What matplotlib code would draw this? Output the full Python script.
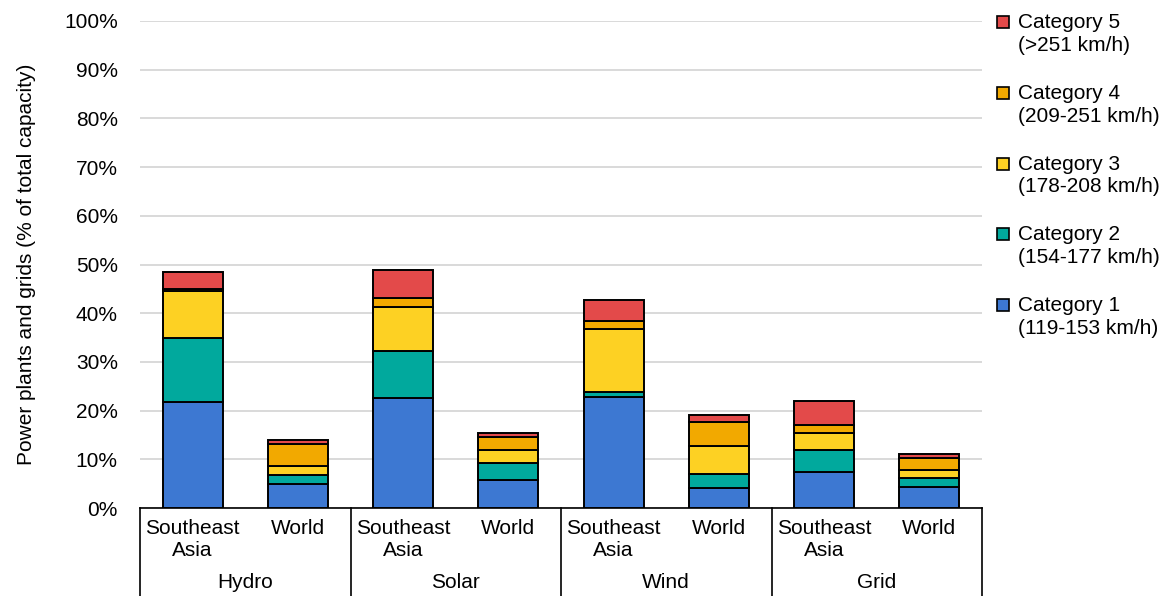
import matplotlib.pyplot as plt
import matplotlib.transforms as mtransforms
from matplotlib.patches import Rectangle
from matplotlib.lines import Line2D
import numpy as np

plt.rcParams['font.family'] = ['Liberation Sans', 'DejaVu Sans']

groups = ['Hydro', 'Solar', 'Wind', 'Grid']
regions = ['Southeast\nAsia', 'World']

# share of capacity (%) per bar: Hydro SEA, Hydro World, Solar SEA, Solar World, ...
cat1 = [21.7, 4.9, 22.5, 5.7, 22.7, 4.2, 7.4, 4.3]
cat2 = [13.3, 1.9, 9.7, 3.5, 1.1, 2.8, 4.5, 1.9]
cat3 = [9.6, 1.9, 9.0, 2.8, 13.0, 5.7, 3.6, 1.7]
cat4 = [0.3, 4.4, 1.9, 2.6, 1.5, 4.9, 1.5, 2.4]
cat5 = [3.6, 0.9, 5.8, 0.7, 4.4, 1.5, 5.0, 0.7]

series = [cat1, cat2, cat3, cat4, cat5]
labels = ['Category 1\n(119-153 km/h)', 'Category 2\n(154-177 km/h)',
          'Category 3\n(178-208 km/h)', 'Category 4\n(209-251 km/h)',
          'Category 5\n(>251 km/h)']
colors = ['#3D78D2', '#01A99D', '#FDD123', '#F2A900', '#E34A4A']

fs = 15

fig = plt.figure(figsize=(11.68, 5.96), dpi=100)
ax = fig.add_axes([140 / 1168, 1 - 508 / 596, 842 / 1168, 487 / 596])

x = np.arange(len(cat1))
bottom = np.zeros(len(cat1))
for vals, c in zip(series, colors):
    ax.bar(x, vals, bottom=bottom, width=0.57, color=c,
           edgecolor='black', linewidth=1.4, zorder=3)
    bottom += np.array(vals)

ax.set_xlim(-0.5, len(cat1) - 0.5)
ax.set_ylim(0, 100)
ax.set_yticks(np.arange(0, 101, 10))
ax.set_yticklabels([f'{v}%' for v in range(0, 101, 10)], fontsize=fs)
ax.yaxis.grid(True, color='#d9d9d9', linewidth=1.4, zorder=0)
ax.tick_params(axis='y', length=0, pad=16)
ax.set_xticks([])
for s in ['top', 'right', 'left']:
    ax.spines[s].set_visible(False)
ax.spines['bottom'].set_color('black')
ax.spines['bottom'].set_linewidth(1.2)

ax.set_ylabel('Power plants and grids (% of total capacity)', fontsize=fs, labelpad=20)

# two-level category axis below the plot
trans = mtransforms.blended_transform_factory(ax.transData, ax.transAxes)
for i in x:
    ax.text(i, -0.022, regions[i % 2], transform=trans, ha='center', va='top',
            fontsize=fs, linespacing=1.2)
for g, name in enumerate(groups):
    ax.text(2 * g + 0.5, -0.152, name, transform=trans, ha='center', va='center',
            fontsize=fs)
for b in np.arange(-0.5, len(cat1), 2):
    ax.add_line(Line2D([b, b], [0, -0.185], transform=trans, color='black',
                       linewidth=1.2, clip_on=False))

# legend, top category first
lx, ly, step = 1003, 22, 70.8
for k in range(len(series) - 1, -1, -1):
    row = len(series) - 1 - k
    yc = ly + row * step
    fig.add_artist(Rectangle(((lx - 6) / 1168, 1 - (yc + 6) / 596), 12 / 1168, 12 / 596,
                             transform=fig.transFigure, facecolor=colors[k],
                             edgecolor='black', linewidth=1.2))
    fig.text((lx + 15) / 1168, 1 - (yc - 9) / 596, labels[k], fontsize=fs,
             va='top', ha='left', linespacing=1.25)

fig.savefig('out.png', dpi=100)
